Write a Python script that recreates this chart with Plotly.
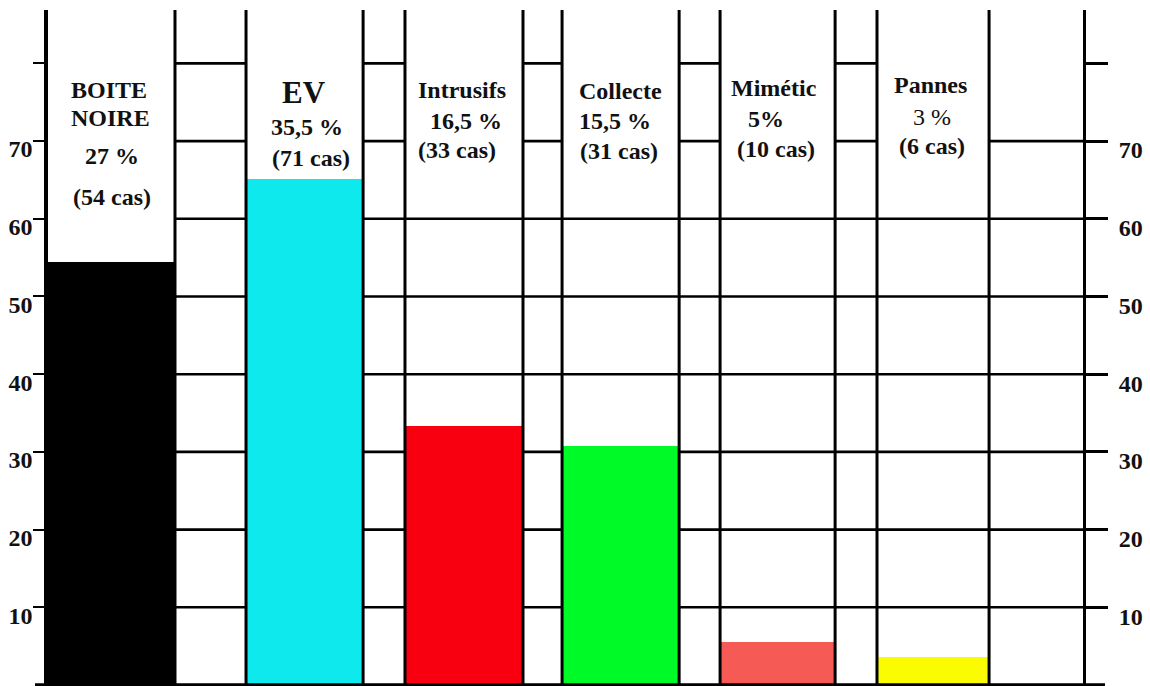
import plotly.graph_objects as go

# ---------------- data ----------------
categories = ["BOITE NOIRE", "EV", "Intrusifs", "Collecte", "Mimétic", "Pannes"]
name_lines = [["BOITE", "NOIRE"], ["EV"], ["Intrusifs"], ["Collecte"], ["Mimétic"], ["Pannes"]]
pct_labels = ["27 %", "35,5 %", "16,5 %", "15,5 %", "5%", "3 %"]
cas_labels = ["(54 cas)", "(71 cas)", "(33 cas)", "(31 cas)", "(10 cas)", "(6 cas)"]
bar_heights = [54.4, 65.1, 33.3, 30.8, 5.5, 3.6]
tick_values = [10, 20, 30, 40, 50, 60, 70, 80]
tick_labels = ["10", "20", "30", "40", "50", "60", "70", ""]

# ---------------- style / layout ----------------
colors = ["#000000", "#0de9ec", "#f8000f", "#00fa28", "#f65a55", "#fcfc00"]
bar_offsets = [-0.663, -0.396, -0.379, -0.374, -0.363, -0.359]
bar_widths = [0.8125, 0.749, 0.755, 0.749, 0.736, 0.717]
X_RANGE = [-0.663, 5.959]
Y_RANGE = [0, 86.87]
TOP_PX, BOTTOM_PX = 10, 685
W, H = 1150, 686
SERIF = "Liberation Serif"

def py_to_paper(py):
    return (BOTTOM_PX - py) / (BOTTOM_PX - TOP_PX)

fig = go.Figure()
fig.add_trace(go.Bar(
    x=categories, y=bar_heights,
    offset=bar_offsets, width=bar_widths,
    marker=dict(color=colors, line=dict(width=0)),
    hoverinfo="x+y", showlegend=False,
))

shapes = []
idx = list(range(len(categories)))
lefts = [i + o for i, o in zip(idx, bar_offsets)]
rights = [l + w for l, w in zip(lefts, bar_widths)]
centers = [(l + r) / 2 for l, r in zip(lefts, rights)]

LW_V = 3
LW_H = 2.6
# horizontal grid lines 10..60 from right edge of first bar to right axis
for v in tick_values:
    if v <= 60:
        shapes.append(dict(type="line", xref="x", yref="y", x0=rights[0], x1=X_RANGE[1],
                           y0=v, y1=v, line=dict(color="black", width=LW_H), layer="below"))
# 70 and 80 only in the gaps between bars
for k in range(len(categories) - 1):
    for v in (70, 80):
        shapes.append(dict(type="line", xref="x", yref="y", x0=rights[k], x1=lefts[k + 1],
                           y0=v, y1=v, line=dict(color="black", width=LW_H), layer="below"))
# 70 in the last column
shapes.append(dict(type="line", xref="x", yref="y", x0=rights[-1], x1=X_RANGE[1],
                   y0=70, y1=70, line=dict(color="black", width=LW_H), layer="below"))
# vertical column lines at bar edges
edges = [rights[0]] + [e for k in range(1, len(categories)) for e in (lefts[k], rights[k])]
for e in edges:
    shapes.append(dict(type="line", xref="x", yref="paper", x0=e, x1=e, y0=0, y1=1,
                       line=dict(color="black", width=LW_V), layer="above"))
# baseline extending past both axes
shapes.append(dict(type="line", xref="paper", yref="paper", x0=-13 / 1035, x1=1 + 22 / 1035,
                   y0=0, y1=0, line=dict(color="black", width=3.5), layer="above"))

# text labels above bars
# (per line: pixel row, horizontal shift, size, weight)
name_rows = [[90, 118], [92], [90], [91], [88], [85]]
name_shift = [[-3, -1], [-1], [-2], [0], [-4], [-3]]
name_size = [24, 31, 24, 24, 24, 24]
pct_rows = [156, 127, 121, 121, 119, 117]
pct_shift = [0, 2, 2, -6, -12, -1]
pct_weight = ["bold", "bold", "bold", "bold", "bold", "normal"]
cas_rows = [197, 158, 150, 151, 149, 146]
cas_shift = [0, 6, -7, -2, -2, -1]

annotations = []
def add_text(txt, xc, py, xs, size, weight):
    annotations.append(dict(text=txt, x=xc, xref="x", y=py_to_paper(py), yref="paper",
                            xshift=xs, showarrow=False, xanchor="center", yanchor="middle",
                            font=dict(family=SERIF, size=size, color="#111", weight=weight)))

for k in idx:
    for t, r, s in zip(name_lines[k], name_rows[k], name_shift[k]):
        add_text(t, centers[k], r, s, name_size[k], "bold")
    add_text(pct_labels[k], centers[k], pct_rows[k], pct_shift[k], 24, pct_weight[k])
    add_text(cas_labels[k], centers[k], cas_rows[k], cas_shift[k], 24, "bold")

tickfont = dict(family=SERIF, size=24, color="#111", weight="bold")
fig.update_layout(
    width=W, height=H,
    margin=dict(l=48, r=67, t=TOP_PX, b=H - BOTTOM_PX),
    paper_bgcolor="white", plot_bgcolor="white",
    shapes=shapes, annotations=annotations,
    bargap=0,
    xaxis=dict(range=X_RANGE, showticklabels=False, showgrid=False, zeroline=False,
               showline=False, ticks="", fixedrange=True),
    yaxis=dict(range=Y_RANGE, tickvals=tick_values, ticktext=tick_labels,
               ticks="outside", ticklen=11, tickwidth=2, tickcolor="black",
               showline=True, linewidth=3.5, linecolor="black", showgrid=False, zeroline=False,
               tickfont=tickfont, ticklabelshift=8, ticklabelstandoff=-4),
    yaxis2=dict(range=Y_RANGE, overlaying="y", side="right", tickvals=tick_values,
                ticktext=tick_labels, ticks="outside", ticklen=22, tickwidth=2.6,
                tickcolor="black", showline=True, linewidth=3, linecolor="black",
                showgrid=False, zeroline=False, tickfont=tickfont,
                ticklabelshift=9, ticklabelstandoff=6),
)
# invisible trace to activate the right axis
fig.add_trace(go.Scatter(x=[categories[0]], y=[0], yaxis="y2", mode="markers",
                         marker=dict(opacity=0), showlegend=False, hoverinfo="skip"))

fig.write_html("out.html")
